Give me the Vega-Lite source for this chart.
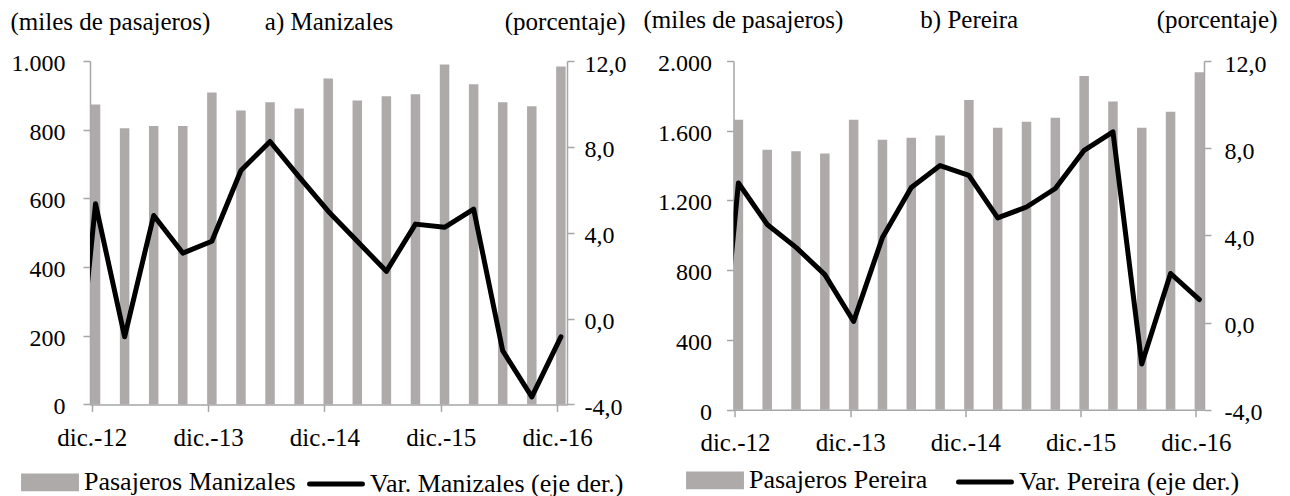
{
  "$schema": "https://vega.github.io/schema/vega-lite/v6.json",
  "padding": {"left": 10, "top": 7, "right": 0, "bottom": 0},
  "bounds": "flush",
  "spacing": 166.5,
  "datasets": {
    "manizales": [
      {"t": -1, "trimestre": "sep-12", "pasajeros": null, "var": -8.1},
      {"t": 0, "trimestre": "dic-12", "pasajeros": 873, "var": 5.35},
      {"t": 1, "trimestre": "mar-13", "pasajeros": 804, "var": -0.85},
      {"t": 2, "trimestre": "jun-13", "pasajeros": 811, "var": 4.8},
      {"t": 3, "trimestre": "sep-13", "pasajeros": 811, "var": 3.05},
      {"t": 4, "trimestre": "dic-13", "pasajeros": 908, "var": 3.6},
      {"t": 5, "trimestre": "mar-14", "pasajeros": 856, "var": 6.9},
      {"t": 6, "trimestre": "jun-14", "pasajeros": 880, "var": 8.25},
      {"t": 7, "trimestre": "sep-14", "pasajeros": 862, "var": 6.6},
      {"t": 8, "trimestre": "dic-14", "pasajeros": 949, "var": 5.0},
      {"t": 9, "trimestre": "mar-15", "pasajeros": 885, "var": 3.6},
      {"t": 10, "trimestre": "jun-15", "pasajeros": 897, "var": 2.2},
      {"t": 11, "trimestre": "sep-15", "pasajeros": 903, "var": 4.4},
      {"t": 12, "trimestre": "dic-15", "pasajeros": 990, "var": 4.25},
      {"t": 13, "trimestre": "mar-16", "pasajeros": 932, "var": 5.1},
      {"t": 14, "trimestre": "jun-16", "pasajeros": 880, "var": -1.5},
      {"t": 15, "trimestre": "sep-16", "pasajeros": 868, "var": -3.65},
      {"t": 16, "trimestre": "dic-16", "pasajeros": 984, "var": -0.85}
    ],
    "pereira": [
      {"t": -1, "trimestre": "sep-12", "pasajeros": null, "var": -7.4},
      {"t": 0, "trimestre": "dic-12", "pasajeros": 1663, "var": 6.4},
      {"t": 1, "trimestre": "mar-13", "pasajeros": 1491, "var": 4.5},
      {"t": 2, "trimestre": "jun-13", "pasajeros": 1482, "var": 3.45},
      {"t": 3, "trimestre": "sep-13", "pasajeros": 1470, "var": 2.2},
      {"t": 4, "trimestre": "dic-13", "pasajeros": 1663, "var": 0.05},
      {"t": 5, "trimestre": "mar-14", "pasajeros": 1549, "var": 3.9},
      {"t": 6, "trimestre": "jun-14", "pasajeros": 1560, "var": 6.2},
      {"t": 7, "trimestre": "sep-14", "pasajeros": 1572, "var": 7.2},
      {"t": 8, "trimestre": "dic-14", "pasajeros": 1776, "var": 6.75},
      {"t": 9, "trimestre": "mar-15", "pasajeros": 1617, "var": 4.8},
      {"t": 10, "trimestre": "jun-15", "pasajeros": 1652, "var": 5.3},
      {"t": 11, "trimestre": "sep-15", "pasajeros": 1675, "var": 6.15},
      {"t": 12, "trimestre": "dic-15", "pasajeros": 1914, "var": 7.9},
      {"t": 13, "trimestre": "mar-16", "pasajeros": 1767, "var": 8.75},
      {"t": 14, "trimestre": "jun-16", "pasajeros": 1617, "var": -1.9},
      {"t": 15, "trimestre": "sep-16", "pasajeros": 1709, "var": 2.25},
      {"t": 16, "trimestre": "dic-16", "pasajeros": 1935, "var": 1.05}
    ]
  },
  "hconcat": [
    {
      "width": 477,
      "height": 343.4,
      "data": {"name": "manizales"},
      "layer": [
        {
          "mark": {"type": "bar", "size": 9.5},
          "encoding": {
            "x": {
              "field": "t", "type": "quantitative",
              "scale": {"domain": [-0.19, 16.21], "nice": false, "zero": false, "padding": 0},
              "axis": {
                "values": [-0.13, 3.87, 7.87, 11.87, 15.87],
                "labelExpr": "['dic.-12','dic.-13','dic.-14','dic.-15','dic.-16'][round((datum.value+0.13)/4)]",
                "labelFont": "Liberation Serif", "labelFontSize": 25, "labelPadding": 14, "labelDx": 4, "labelAngle": 0,
                "labelFlush": false, "labelOverlap": false,
                "title": "a) Manizales", "titleFont": "Liberation Serif", "titleFontSize": 25, "titleY": -375.4,
                "titleBaseline": "alphabetic"
              }
            },
            "y": {
              "field": "pasajeros", "type": "quantitative",
              "scale": {"domain": [0, 1000], "nice": false},
              "axis": {
                "values": [0, 200, 400, 600, 800, 1000],
                "labelExpr": "replace(format(datum.value, ','), ',', '.')",
                "labelFont": "Liberation Serif", "labelFontSize": 24, "labelPadding": 18, "labelOffset": 2.5,
                "title": "(miles de pasajeros)", "titleFont": "Liberation Serif", "titleFontSize": 25, "titleAngle": 0,
                "titleAlign": "left", "titleX": -80, "titleY": -32, "titleBaseline": "alphabetic"
              }
            },
            "color": {
              "datum": "Pasajeros Manizales",
              "scale": {"domain": ["Pasajeros Manizales", "Var. Manizales (eje der.)"], "range": ["#AEAAAA", "#000000"]},
              "legend": {
                "orient": "none", "direction": "horizontal", "legendX": -69, "legendY": 392,
                "title": null, "labelFont": "Liberation Serif", "labelFontSize": 26, "labelColor": "#000000", "symbolSize": 2800,
                "labelOffset": 5, "columnPadding": 3, "labelLimit": 0,
                "encode": {
                  "symbols": {
                    "update": {
                      "shape": {"signal": "indexof(datum.value,'Pasajeros')===0 ? 'M-1,-0.24H1V0.24H-1Z' : 'stroke'"},
                      "fill": {"signal": "indexof(datum.value,'Pasajeros')===0 ? '#AEAAAA' : 'transparent'"},
                      "stroke": {"signal": "indexof(datum.value,'Pasajeros')===0 ? 'transparent' : '#000000'"},
                      "strokeWidth": {"value": 5},
                      "strokeCap": {"value": "round"},
                      "opacity": {"value": 1}
                    }
                  }
                }
              }
            }
          }
        },
        {
          "mark": {"type": "line", "strokeWidth": 5, "clip": true, "strokeJoin": "round", "strokeCap": "round"},
          "encoding": {
            "x": {"field": "t", "type": "quantitative"},
            "y": {
              "field": "var", "type": "quantitative",
              "scale": {"domain": [-4, 12], "nice": false, "zero": false},
              "axis": {
                "orient": "right",
                "values": [-4, 0, 4, 8, 12],
                "labelExpr": "(datum.value<0?'-':'') + replace(format(abs(datum.value),'.1f'),'.',',')",
                "labelFont": "Liberation Serif", "labelFontSize": 24, "labelPadding": 10, "labelOffset": 3,
                "title": "(porcentaje)", "titleFont": "Liberation Serif", "titleFontSize": 25, "titleAngle": 0,
                "titleAlign": "right", "titleX": 58, "titleY": -32, "titleBaseline": "alphabetic"
              }
            },
            "color": {"datum": "Var. Manizales (eje der.)"}
          }
        }
      ],
      "resolve": {"scale": {"y": "independent"}}
    },
    {
      "width": 470.5,
      "height": 348.7,
      "data": {"name": "pereira"},
      "layer": [
        {
          "mark": {"type": "bar", "size": 9.5},
          "encoding": {
            "x": {
              "field": "t", "type": "quantitative",
              "scale": {"domain": [-0.17, 16.16], "nice": false, "zero": false, "padding": 0},
              "axis": {
                "values": [-0.12, 3.88, 7.88, 11.88, 15.88],
                "labelExpr": "['dic.-12','dic.-13','dic.-14','dic.-15','dic.-16'][round((datum.value+0.12)/4)]",
                "labelFont": "Liberation Serif", "labelFontSize": 25, "labelPadding": 14, "labelDx": 4, "labelAngle": 0,
                "labelFlush": false, "labelOverlap": false,
                "title": "b) Pereira", "titleFont": "Liberation Serif", "titleFontSize": 25, "titleY": -382,
                "titleBaseline": "alphabetic"
              }
            },
            "y": {
              "field": "pasajeros", "type": "quantitative",
              "scale": {"domain": [0, 2000], "nice": false},
              "axis": {
                "values": [0, 400, 800, 1200, 1600, 2000],
                "labelExpr": "replace(format(datum.value, ','), ',', '.')",
                "labelFont": "Liberation Serif", "labelFontSize": 24, "labelPadding": 15, "labelOffset": 2.5,
                "title": "(miles de pasajeros)", "titleFont": "Liberation Serif", "titleFontSize": 25, "titleAngle": 0,
                "titleAlign": "left", "titleX": -90.5, "titleY": -33.3, "titleBaseline": "alphabetic"
              }
            },
            "color": {
              "datum": "Pasajeros Pereira",
              "scale": {"domain": ["Pasajeros Pereira", "Var. Pereira (eje der.)"], "range": ["#AEAAAA", "#000000"]},
              "legend": {
                "orient": "none", "direction": "horizontal", "legendX": -47.5, "legendY": 390,
                "title": null, "labelFont": "Liberation Serif", "labelFontSize": 26, "labelColor": "#000000", "symbolSize": 2800,
                "labelOffset": 5, "columnPadding": 20, "labelLimit": 0,
                "encode": {
                  "symbols": {
                    "update": {
                      "shape": {"signal": "indexof(datum.value,'Pasajeros')===0 ? 'M-1,-0.24H1V0.24H-1Z' : 'stroke'"},
                      "fill": {"signal": "indexof(datum.value,'Pasajeros')===0 ? '#AEAAAA' : 'transparent'"},
                      "stroke": {"signal": "indexof(datum.value,'Pasajeros')===0 ? 'transparent' : '#000000'"},
                      "strokeWidth": {"value": 5},
                      "strokeCap": {"value": "round"},
                      "opacity": {"value": 1}
                    }
                  }
                }
              }
            }
          }
        },
        {
          "mark": {"type": "line", "strokeWidth": 5, "clip": true, "strokeJoin": "round", "strokeCap": "round"},
          "encoding": {
            "x": {"field": "t", "type": "quantitative"},
            "y": {
              "field": "var", "type": "quantitative",
              "scale": {"domain": [-4, 12], "nice": false, "zero": false},
              "axis": {
                "orient": "right",
                "values": [-4, 0, 4, 8, 12],
                "labelExpr": "(datum.value<0?'-':'') + replace(format(abs(datum.value),'.1f'),'.',',')",
                "labelFont": "Liberation Serif", "labelFontSize": 24, "labelPadding": 13, "labelOffset": 3,
                "title": "(porcentaje)", "titleFont": "Liberation Serif", "titleFontSize": 25, "titleAngle": 0,
                "titleAlign": "right", "titleX": 73, "titleY": -33.3, "titleBaseline": "alphabetic"
              }
            },
            "color": {"datum": "Var. Pereira (eje der.)"}
          }
        }
      ],
      "resolve": {"scale": {"y": "independent"}}
    }
  ],
  "resolve": {"scale": {"x": "independent", "y": "independent", "color": "independent"}, "legend": {"color": "independent"}},
  "config": {
    "view": {"stroke": null},
    "font": "Liberation Serif",
    "axis": {
      "domainColor": "#A6A6A6", "tickColor": "#A6A6A6", "domainWidth": 1.5, "tickWidth": 1.5,
      "tickSize": 7, "grid": false, "labelColor": "#000000", "titleColor": "#000000",
      "titleFontWeight": "normal", "labelFont": "Liberation Serif", "titleFont": "Liberation Serif"
    },
    "legend": {"labelFont": "Liberation Serif"}
  }
}
